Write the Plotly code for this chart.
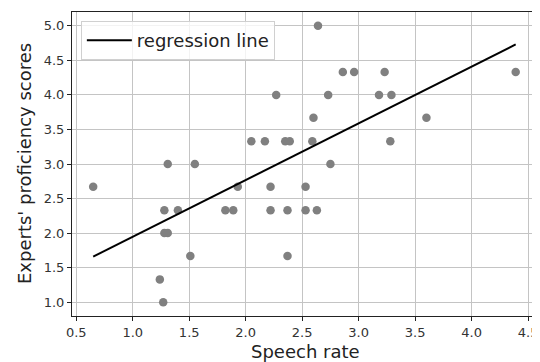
import plotly.graph_objects as go

# speech rate vs. experts' proficiency scores
speech_rate = [2.64,
               2.86, 2.96, 3.23, 4.39,
               2.27, 2.73, 3.18, 3.29,
               2.60, 3.60,
               2.05, 2.17, 2.35, 2.39, 2.59, 3.28,
               1.31, 1.55, 2.75,
               0.65, 1.93, 2.22, 2.53,
               1.28, 1.40, 1.82, 1.89, 2.22, 2.37, 2.53, 2.63,
               1.28, 1.31,
               1.51, 2.37,
               1.24,
               1.27]
scores = [5.0,
          4.33, 4.33, 4.33, 4.33,
          4.0, 4.0, 4.0, 4.0,
          3.67, 3.67,
          3.33, 3.33, 3.33, 3.33, 3.33, 3.33,
          3.0, 3.0, 3.0,
          2.67, 2.67, 2.67, 2.67,
          2.33, 2.33, 2.33, 2.33, 2.33, 2.33, 2.33, 2.33,
          2.0, 2.0,
          1.67, 1.67,
          1.33,
          1.0]

# fitted line
slope = 0.821
intercept = 1.126
line_x = [min(speech_rate), max(speech_rate)]
line_y = [intercept + slope * v for v in line_x]

x_ticks = [0.5, 1.0, 1.5, 2.0, 2.5, 3.0, 3.5, 4.0, 4.5]
y_ticks = [1.0, 1.5, 2.0, 2.5, 3.0, 3.5, 4.0, 4.5, 5.0]

font = "DejaVu Sans"

fig = go.Figure()
fig.add_trace(go.Scatter(x=speech_rate, y=scores, mode='markers',
                         marker=dict(color='#808080', size=8.5),
                         showlegend=False))
fig.add_trace(go.Scatter(x=line_x, y=line_y, mode='lines',
                         line=dict(color='black', width=2),
                         name='regression line'))

axis_style = dict(showgrid=True, gridcolor='#c4c4c4', gridwidth=1,
                  showline=True, linecolor='#222222', linewidth=1, mirror=True,
                  ticks='outside', ticklen=4, tickcolor='#222222',
                  zeroline=False, automargin=False,
                  tickfont=dict(family=font, size=13, color='#333333'))

# the page body keeps its 8px default margin, so the figure is 8px smaller
# than the window and the margins allow for that offset
fig.update_layout(
    width=532, height=354,
    margin=dict(l=64, r=2, t=4, b=46),
    paper_bgcolor='white', plot_bgcolor='white',
    font=dict(family=font, color='#222222'),
    xaxis=dict(range=[0.4625, 4.5875], tickvals=x_ticks,
               ticktext=[f"{v:.1f}" for v in x_ticks],
               **axis_style),
    yaxis=dict(range=[0.8, 5.2], tickvals=y_ticks,
               ticktext=[f"{v:.1f}" for v in y_ticks],
               **axis_style),
    legend=dict(x=0.019, y=0.97, xanchor='left', yanchor='top',
                itemwidth=45,
                bgcolor='rgba(255,255,255,0.8)', bordercolor='#d0d0d0', borderwidth=1,
                font=dict(family=font, size=18, color='#222222')),
)

# axis titles as annotations so they sit where the reference has them
fig.add_annotation(text='Speech rate', xref='paper', yref='paper', x=0.5, y=0,
                   xanchor='center', yanchor='top', yshift=-23, showarrow=False,
                   font=dict(family=font, size=18, color='#222222'))
fig.add_annotation(text="Experts' proficiency scores", xref='paper', yref='paper',
                   x=0, y=0.5, xanchor='center', yanchor='middle', xshift=-48,
                   textangle=-90, showarrow=False,
                   font=dict(family=font, size=18, color='#222222'))

fig.write_html("out.html")
